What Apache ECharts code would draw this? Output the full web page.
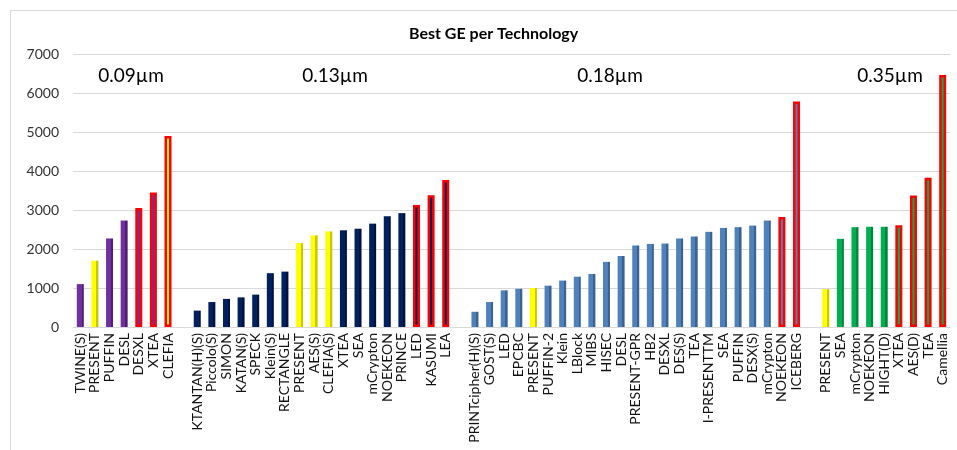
<!DOCTYPE html>
<html>
<head>
<meta charset="utf-8">
<script src="https://cdn.jsdelivr.net/npm/echarts@6/dist/echarts.min.js"></script>
<style>
html,body{margin:0;padding:0;background:#fff;}
#main{width:957px;height:450px;}
</style>
</head>
<body>
<div id="main"></div>
<script>
// ---- Data ----
const techLabels = ['0.09µm', '0.13µm', '0.18µm', '0.35µm'];

const cats09 = ['TWINE(S)','PRESENT','PUFFIN','DESL','DESXL','XTEA','CLEFIA'];
const ge09 = [1100,1700,2270,2730,3050,3450,4900];
const yellow09 = [1,6];
const boxed09 = [4,5,6];

const cats13 = ['KTANTAN(H)(S)','Piccolo(S)','SIMON','KATAN(S)','SPECK','Klein(S)','RECTANGLE','PRESENT','AES(S)','CLEFIA(S)','XTEA','SEA','mCrypton','NOEKEON','PRINCE','LED','KASUMI','LEA'];
const ge13 = [420,640,720,760,830,1380,1420,2150,2350,2450,2480,2520,2650,2840,2920,3130,3380,3770];
const yellow13 = [7,8,9];
const boxed13 = [15,16,17];

const cats18 = ['PRINTcipher(H)(S)','GOST(S)','LED','EPCBC','PRESENT','PUFFIN-2','Klein','LBlock','MIBS','HISEC','DESL','PRESENT-GPR','HB2','DESXL','DES(S)','TEA','I-PRESENTTM','SEA','PUFFIN','DESX(S)','mCrypton','NOEKEON','ICEBERG'];
const ge18 = [390,640,940,980,1000,1060,1190,1290,1360,1670,1820,2090,2130,2140,2270,2320,2440,2540,2560,2600,2730,2820,5780];
const yellow18 = [4];
const boxed18 = [21,22];

const cats35 = ['PRESENT','SEA','mCrypton','NOEKEON','HIGHT(D)','XTEA','AES(D)','TEA','Camellia'];
const ge35 = [970,2260,2560,2570,2570,2610,3370,3830,6460];
const yellow35 = [0];
const boxed35 = [5,6,7,8];

const yTicks = [0,1000,2000,3000,4000,5000,6000,7000];

// ---- Styles ----
const groupColors = [
  ['#7030A0', '#4E1F72'],
  ['#002060', '#00123A'],
  ['#4F81BD', '#3A6390'],
  ['#00B050', '#00853C']
];
const yellowColors = ['#FFFF00', '#C9C900'];

function shade(c) {
  return new echarts.graphic.LinearGradient(0, 0, 1, 0, [
    {offset: 0, color: c[0]}, {offset: 0.68, color: c[0]},
    {offset: 0.68, color: c[1]}, {offset: 1, color: c[1]}
  ]);
}

const groups = [
  {cats: cats09, vals: ge09, yellow: yellow09, boxed: boxed09},
  {cats: cats13, vals: ge13, yellow: yellow13, boxed: boxed13},
  {cats: cats18, vals: ge18, yellow: yellow18, boxed: boxed18},
  {cats: cats35, vals: ge35, yellow: yellow35, boxed: boxed35}
];

const categories = [];
const barData = [];
groups.forEach(function (g, gi) {
  if (gi > 0) { categories.push(''); barData.push('-'); }
  g.cats.forEach(function (name, i) {
    categories.push(name);
    const isY = g.yellow.indexOf(i) >= 0;
    const isB = g.boxed.indexOf(i) >= 0;
    barData.push({
      value: g.vals[i],
      itemStyle: {
        color: shade(isY ? yellowColors : groupColors[gi]),
        borderColor: isB ? '#FF0000' : 'transparent',
        borderWidth: isB ? 2.5 : 0
      }
    });
  });
});

const FONT = 'Lato, "Open Sans", sans-serif';

const chart = echarts.init(document.getElementById('main'), null, {renderer: 'canvas'});
chart.setOption({
  animation: false,
  backgroundColor: '#ffffff',
  title: {
    text: 'Best GE per Technology',
    left: 404,
    top: 21,
    textStyle: {fontFamily: FONT, fontSize: 16, fontWeight: 'bold', color: '#000'}
  },
  graphic: [
    {type: 'rect', shape: {x: 10.5, y: 10.5, width: 960, height: 460}, style: {fill: 'none', stroke: '#D9D9D9', lineWidth: 1}, z: -1},
    {type: 'text', x: 131, y: 76, style: {text: techLabels[0], font: '19px ' + FONT, fill: '#000', textAlign: 'center', textVerticalAlign: 'middle'}},
    {type: 'text', x: 335, y: 76, style: {text: techLabels[1], font: '19px ' + FONT, fill: '#000', textAlign: 'center', textVerticalAlign: 'middle'}},
    {type: 'text', x: 610, y: 76, style: {text: techLabels[2], font: '19px ' + FONT, fill: '#000', textAlign: 'center', textVerticalAlign: 'middle'}},
    {type: 'text', x: 890, y: 76, style: {text: techLabels[3], font: '19px ' + FONT, fill: '#000', textAlign: 'center', textVerticalAlign: 'middle'}}
  ],
  grid: {left: 73, right: 7, top: 54, bottom: 123, containLabel: false},
  xAxis: {
    type: 'category',
    data: categories,
    axisTick: {show: false},
    axisLine: {lineStyle: {color: '#D9D9D9', width: 1}},
    axisLabel: {
      interval: 0, rotate: 90, margin: 6,
      fontFamily: FONT, fontSize: 14, color: '#111'
    }
  },
  yAxis: {
    type: 'value',
    min: yTicks[0],
    max: yTicks[yTicks.length - 1],
    interval: 1000,
    axisLine: {show: false},
    axisTick: {show: false},
    splitLine: {lineStyle: {color: '#D9D9D9', width: 1}},
    axisLabel: {
      fontFamily: FONT, fontSize: 14, color: '#333', margin: 14,
      formatter: function (v) { return String(v); }
    }
  },
  series: [{
    type: 'bar',
    data: barData,
    barWidth: 7
  }]
});
</script>
</body>
</html>
